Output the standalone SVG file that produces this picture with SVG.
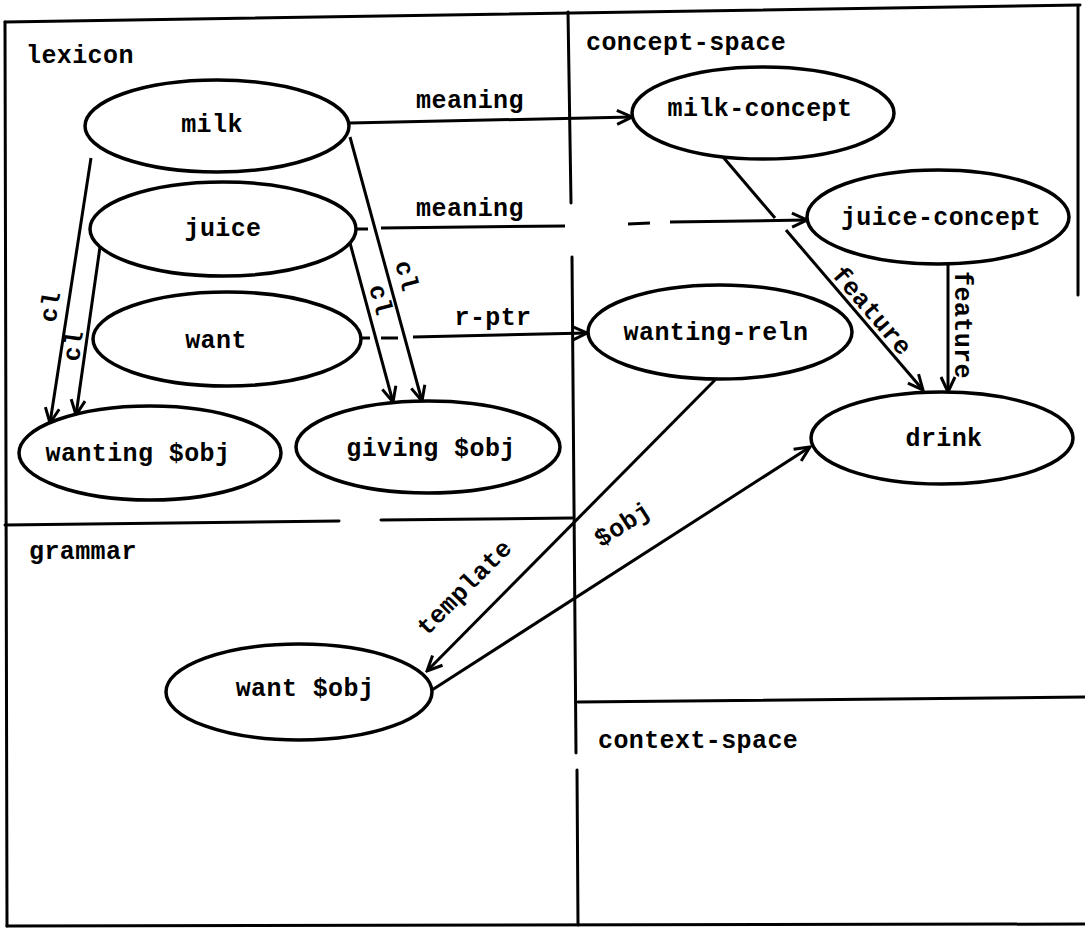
<svg xmlns="http://www.w3.org/2000/svg" width="1085" height="930" viewBox="0 0 1085 930">
  <style>
    .frame { fill: none; stroke: #000; stroke-width: 3; stroke-linecap: round; }
    .node ellipse { fill: #fff; stroke: #000; stroke-width: 3.5; }
    .lbl { font-family: "Liberation Mono", "DejaVu Sans Mono", monospace; font-size: 25px; font-weight: bold; letter-spacing: 0.4px; fill: #000; }
    .mid { text-anchor: middle; }
    .edge { fill: none; stroke: #000; stroke-width: 3; }
  </style>
  <defs>
    <marker id="arr" viewBox="0 0 20 20" refX="18" refY="10" markerWidth="20" markerHeight="20" markerUnits="userSpaceOnUse" orient="auto">
      <path d="M3,3 L18,10 L3,17" fill="none" stroke="#000" stroke-width="3"/>
    </marker>
  </defs>

  <rect width="1085" height="930" fill="#fff"/>

  <!-- partition frame -->
  <g id="frame">
    <path class="frame" d="M5,22 L1080,5"/>
    <path class="frame" d="M5,22 L7,926"/>
    <path class="frame" d="M1078,6 L1078,295"/>
    <path class="frame" d="M7,926 L1085,924"/>
    <path class="frame" d="M568,12 L571,203 M572,257 L576,753 M577,770 L578,925"/>
    <path class="frame" d="M5,525 L339,521 M381,520 L572,518"/>
    <path class="frame" d="M578,702 L1085,697"/>
    <text class="lbl" x="26" y="63">lexicon</text>
    <text class="lbl" x="586" y="50">concept-space</text>
    <text class="lbl" x="29" y="559">grammar</text>
    <text class="lbl" x="598" y="748">context-space</text>
  </g>

  <!-- connectors -->
  <g id="connectors">
    <path class="edge" d="M350,123 L632,117" marker-end="url(#arr)"/>
    <text class="lbl mid" x="470" y="108">meaning</text>

    <path class="edge" d="M356,229 L368,229 M381,228 L565,226 M628,224 L650,223"/>
    <path class="edge" d="M670,222 L807,220" marker-end="url(#arr)"/>
    <text class="lbl mid" x="470" y="216">meaning</text>

    <path class="edge" d="M361,338 L370,338 M381,338 L398,338"/>
    <path class="edge" d="M413,337 L587,333" marker-end="url(#arr)"/>
    <text class="lbl mid" x="493" y="325">r-ptr</text>

    <path class="edge" d="M91,158 L50,423" marker-end="url(#arr)"/>
    <text class="lbl mid" transform="translate(58,308) rotate(-81)">cl</text>
    <path class="edge" d="M100,247 L76,415" marker-end="url(#arr)"/>
    <text class="lbl mid" transform="translate(81,347) rotate(-82)">cl</text>

    <path class="edge" d="M350,137 L422,401" marker-end="url(#arr)"/>
    <text class="lbl mid" transform="translate(399,278) rotate(75)">cl</text>
    <path class="edge" d="M350,243 L393,402" marker-end="url(#arr)"/>
    <text class="lbl mid" transform="translate(373,302) rotate(75)">cl</text>

    <path class="edge" d="M723,157 L775,218"/>
    <path class="edge" d="M786,230 L923,390" marker-end="url(#arr)"/>
    <text class="lbl mid" transform="translate(866,316) rotate(49.4)">feature</text>

    <path class="edge" d="M948,263 L948,392" marker-end="url(#arr)"/>
    <text class="lbl mid" transform="translate(955,325) rotate(90)">feature</text>

    <path class="edge" d="M715,380 L427,671" marker-end="url(#arr)"/>
    <text class="lbl mid" transform="translate(470,593) rotate(-45.3)">template</text>

    <path class="edge" d="M432,690 L810,447" marker-end="url(#arr)"/>
    <text class="lbl mid" transform="translate(627,531) rotate(-32.7)">$obj</text>
  </g>

  <!-- lexicon nodes -->
  <g id="milk" class="node">
    <ellipse cx="217" cy="126" rx="132" ry="46"/>
    <text class="lbl mid" x="212" y="132">milk</text>
  </g>
  <g id="juice" class="node">
    <ellipse cx="223" cy="229" rx="133" ry="47"/>
    <text class="lbl mid" x="223" y="236">juice</text>
  </g>
  <g id="want" class="node">
    <ellipse cx="227" cy="339" rx="134" ry="47"/>
    <text class="lbl mid" x="216" y="348">want</text>
  </g>
  <g id="wanting-obj" class="node">
    <ellipse cx="150" cy="453" rx="131" ry="47"/>
    <text class="lbl mid" x="138" y="461">wanting $obj</text>
  </g>
  <g id="giving-obj" class="node">
    <ellipse cx="428" cy="447" rx="132" ry="46"/>
    <text class="lbl mid" x="431" y="456">giving $obj</text>
  </g>

  <!-- concept-space nodes -->
  <g id="milk-concept" class="node">
    <ellipse cx="763" cy="113" rx="131" ry="46"/>
    <text class="lbl mid" x="760" y="116">milk-concept</text>
  </g>
  <g id="juice-concept" class="node">
    <ellipse cx="938" cy="217" rx="131" ry="47"/>
    <text class="lbl mid" x="941" y="225">juice-concept</text>
  </g>
  <g id="wanting-reln" class="node">
    <ellipse cx="720" cy="332" rx="132" ry="47"/>
    <text class="lbl mid" x="716" y="340">wanting-reln</text>
  </g>
  <g id="drink" class="node">
    <ellipse cx="942" cy="438" rx="131" ry="46"/>
    <text class="lbl mid" x="944" y="446">drink</text>
  </g>

  <!-- grammar node -->
  <g id="want-obj" class="node">
    <ellipse cx="299" cy="692" rx="133" ry="48"/>
    <text class="lbl mid" x="305" y="696">want $obj</text>
  </g>
</svg>
